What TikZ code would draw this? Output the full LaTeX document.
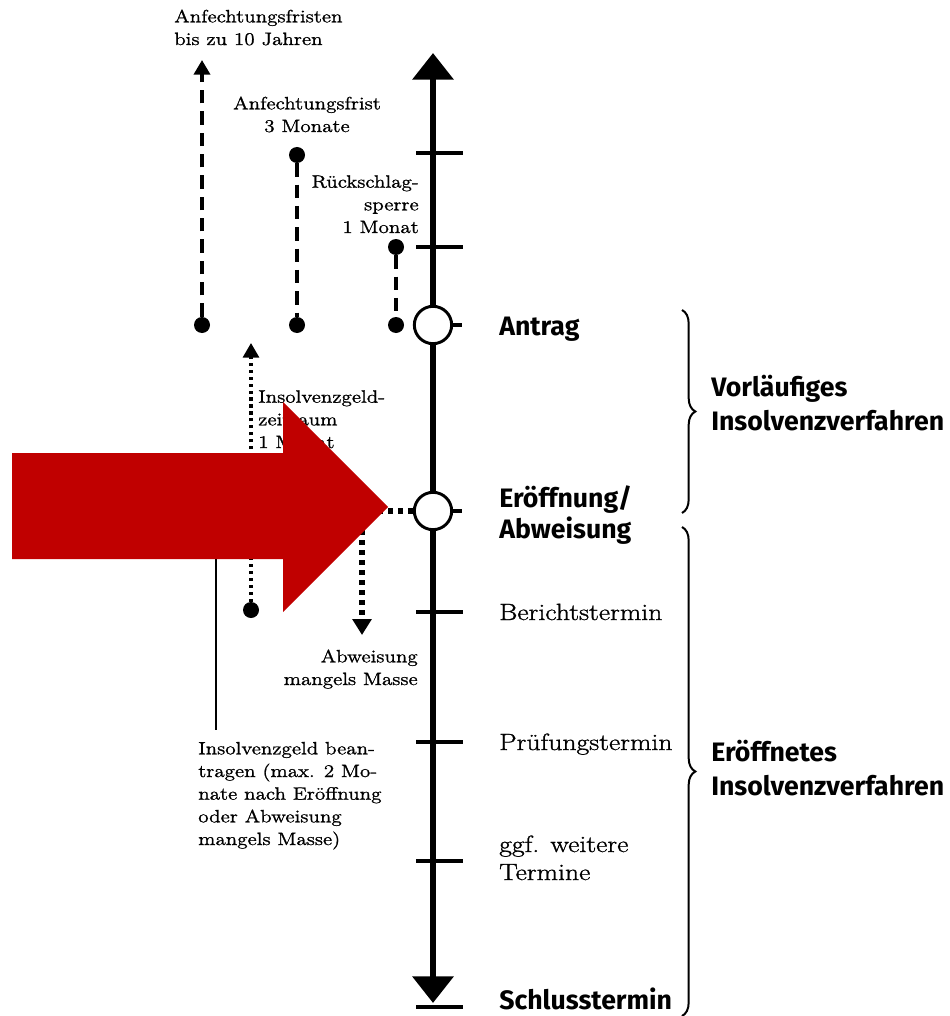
\documentclass[tikz,border=0pt]{standalone}
\usepackage{fontspec}
\newfontfamily\headfont{Fira Sans}
\newfontfamily\scanfont{Latin Modern Roman}[FakeStretch=1.18, FakeBold=1.2]
\usetikzlibrary{arrows.meta, decorations.pathreplacing}
\definecolor{arrowred}{HTML}{C00000}
\tikzset{
  termtext/.style={anchor=base west, inner sep=0pt, align=left,
    font=\scanfont\fontsize{17.6}{21}\selectfont},
  phasetext/.style={anchor=base west, inner sep=0pt, align=left,
    font=\headfont\bfseries\fontsize{20}{25}\selectfont},
  notetext/.style={inner sep=0pt, font=\scanfont\fontsize{13.4}{17}\selectfont}
}

\begin{document}
\begin{tikzpicture}[x=0.75pt, y=-0.75pt,
    axis/.style={line width=5pt},
    tick/.style={line width=3.5pt},
    event node/.style={circle, draw, line width=2.2pt, fill=white, minimum size=28pt, inner sep=0pt},
    dot node/.style={circle, fill=black, minimum size=12pt, inner sep=0pt},
    frist/.style={line width=3.5pt, dash pattern=on 10pt off 6pt},
    geldzeit/.style={line width=2.4pt, dash pattern=on 2.4pt off 2.8pt},
    masse/.style={line width=4pt, dash pattern=on 4pt off 3.5pt},
    smalltip/.style={-{Triangle[width=12pt,length=11pt]}},
    bracket/.style={decorate, decoration={brace, amplitude=10pt}, line width=1.5pt} ]
    \useasboundingbox (0,0) rectangle (949,1016);
    % time axis
    \coordinate (top) at (433,53);
    \coordinate (bottom) at (433,1003);
    \draw [axis, {Triangle[width=30pt,length=20pt]}-{Triangle[width=30pt,length=20pt]}] (bottom) to (top);
    \foreach \y in {153,247,612,742,861,1007}
      \draw [tick] (416,\y) -- (463,\y);
    \node [event node] (antrag) at (433,325) {};
    \node [event node] (eroeff) at (433,511) {};
    \draw [tick] (antrag.east) -- ++(9,0);
    \draw [tick] (eroeff.east) -- ++(9,0);
    \node [phasetext] at (499,335) (lantrag) {Antrag};
    \node [phasetext, font=\headfont\bfseries\fontsize{20}{23}\selectfont] at (499,538) (leroeff) {Eröffnung/\\Abweisung};
    \node [termtext] at (499,620) (lbericht) {Berichtstermin};
    \node [termtext] at (499,750) (lpruef) {Prüfungstermin};
    \node [termtext] at (499,880) (lweitere) {ggf. weitere\\Termine};
    \node [phasetext] at (499,1009) (lschluss) {Schlusstermin};
    % phases
    \draw [bracket] (682,310) -- (682,513);
    \node [phasetext] at (711,430) (vorl) {Vorläufiges\\Insolvenzverfahren};
    \draw [bracket] (682,527) -- (682,1016);
    \node [phasetext] at (711,795) (eroeffnet) {Eröffnetes\\Insolvenzverfahren};
    % fristen
    \node [dot node] (f1) at (202,325) {};
    \coordinate (f1top) at (202,60);
    \draw [frist, smalltip] (f1) to (f1top);
    \node [notetext, anchor=base west, align=left] at (174,45) (t1) {Anfechtungsfristen\\bis zu 10 Jahren};
    \node [dot node] (f2a) at (297,155) {};
    \node [dot node] (f2b) at (297,325) {};
    \draw [frist] (f2a) to (f2b);
    \node [notetext, anchor=base, align=center] at (307,132) (t2) {Anfechtungsfrist\\3 Monate};
    \node [dot node] (f3a) at (396,247) {};
    \node [dot node] (f3b) at (396,325) {};
    \draw [frist] (f3a) to (f3b);
    \node [notetext, anchor=base east, align=right] at (419,233) (t3) {Rückschlag-\\sperre\\1 Monat};
    % insolvenzgeld
    \node [dot node] (g1) at (251,610) {};
    \coordinate (g1top) at (251,343);
    \draw [geldzeit, smalltip] (g1) to (g1top);
    \node [notetext, anchor=base west, align=left] at (258,448) (t4) {Insolvenzgeld-\\zeitraum\\1 Monat};
    \coordinate (knick) at (362,511);
    \coordinate (masseend) at (362,635);
    \draw [masse, -{Triangle[width=14pt,length=12pt]}] (eroeff) -- (knick) -- (masseend);
    \node [notetext, anchor=base east, align=right] at (418,685) (t5) {Abweisung\\mangels Masse};
    \node [notetext, anchor=base west, align=left] at (198,845) (t6) {Insolvenzgeld bean-\\tragen (max. 2 Mo-\\nate nach Eröffnung\\oder Abweisung\\mangels Masse)};
    \coordinate (geldstart) at (216,500);
    \draw [line width=1.5pt, shorten >=9pt] (geldstart) to (geldstart |- t6.north);
    % marker
    \fill [arrowred] (12,453) -- (283,453) -- (283,402) -- (388,507) -- (283,612) -- (283,559) -- (12,559) -- cycle;
\end{tikzpicture}
\end{document}
